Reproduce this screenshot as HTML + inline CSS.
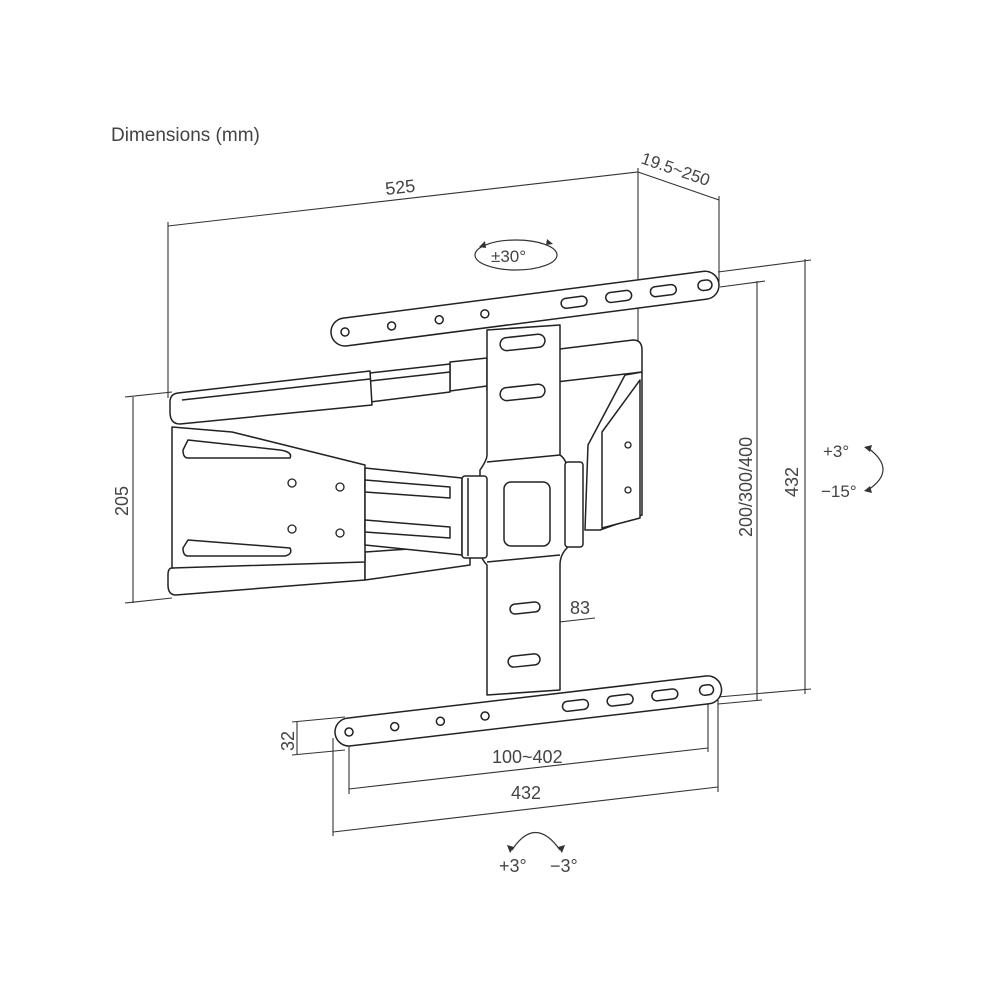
<!DOCTYPE html>
<html><head><meta charset="utf-8"><style>
html,body{margin:0;padding:0;background:#fff;width:1000px;height:1000px;overflow:hidden}
svg{display:block}
text{font-family:"Liberation Sans",sans-serif;fill:#444}
</style></head><body>
<svg width="1000" height="1000" viewBox="0 0 1000 1000" xmlns="http://www.w3.org/2000/svg">
<rect width="1000" height="1000" fill="#fff"/>
<text x="111" y="141" font-size="19">Dimensions (mm)</text>

<g stroke="#333" stroke-width="1.1" fill="none">
  <line x1="168" y1="226" x2="638" y2="172"/>
  <line x1="168" y1="222" x2="168" y2="398"/>
  <line x1="638" y1="168" x2="638" y2="345"/>
  <line x1="638" y1="172" x2="719" y2="200"/>
  <line x1="719" y1="196" x2="719" y2="282"/>
  <line x1="718" y1="272" x2="811" y2="260"/>
  <line x1="805" y1="259" x2="805" y2="694"/>
  <line x1="718" y1="697" x2="811" y2="689"/>
  <line x1="720" y1="287" x2="765" y2="281"/>
  <line x1="757" y1="281" x2="757" y2="700"/>
  <line x1="718" y1="704" x2="762" y2="700"/>
  <line x1="125" y1="397" x2="172" y2="392"/>
  <line x1="133" y1="397" x2="133" y2="603"/>
  <line x1="125" y1="603" x2="172" y2="598"/>
  <line x1="487" y1="630" x2="595" y2="618"/>
  <line x1="292" y1="722" x2="345" y2="717"/>
  <line x1="297" y1="722" x2="297" y2="754"/>
  <line x1="292" y1="755" x2="345" y2="750"/>
  <line x1="349" y1="734" x2="349" y2="794"/>
  <line x1="708" y1="692" x2="708" y2="752"/>
  <line x1="349" y1="789" x2="708" y2="748"/>
  <line x1="333" y1="738" x2="333" y2="836"/>
  <line x1="718" y1="700" x2="718" y2="792"/>
  <line x1="333" y1="832" x2="718" y2="787"/>
</g>

<text x="0" y="0" font-size="18" transform="translate(386,195) rotate(-6.6)">525</text>
<text x="0" y="0" font-size="17" transform="translate(640,163) rotate(19)">19.5~250</text>
<text x="0" y="0" font-size="18" transform="translate(128,516) rotate(-90)">205</text>
<text x="0" y="0" font-size="18" transform="translate(752,537) rotate(-90)">200/300/400</text>
<text x="0" y="0" font-size="18" transform="translate(798,497) rotate(-90)">432</text>
<text x="0" y="0" font-size="18" transform="translate(294,751) rotate(-90)">32</text>
<text x="570" y="614" font-size="18">83</text>
<text x="492" y="763" font-size="18">100~402</text>
<text x="511" y="799" font-size="18">432</text>
<text x="499" y="872" font-size="18">+3°</text>
<text x="550" y="872" font-size="18">−3°</text>
<text x="823" y="457" font-size="17">+3°</text>
<text x="821" y="497" font-size="17">−15°</text>
<text x="491" y="262" font-size="17">±30°</text>

<g stroke="#333" stroke-width="1.2" fill="none">
  <ellipse cx="516" cy="255" rx="41" ry="15"/>
  <path d="M512 850 Q535 815 560 850"/>
  <path d="M868 448 Q898 470 868 490"/>
</g>
<g fill="#333">
  <path d="M479 247 l6 -6 l1 7z"/>
  <path d="M553 244 l-6 -5 l-1 6z"/>
  <path d="M510 853 l-3 -8 l7 2z"/>
  <path d="M562 853 l3 -8 l-7 2z"/>
  <path d="M864 447 l8 -2 l-2 7z"/>
  <path d="M864 491 l8 2 l-2 -7z"/>
</g>

<g stroke="#222" stroke-width="1.5" fill="#fff" stroke-linejoin="round">
  <path d="M487 358 L633 340 Q642 340 642 350 L642 372 L487 390 Z"/>
  <path d="M450 362 L487 358 L487 386 L450 391 Z"/>
  <path d="M370 373 L450 364 L450 392 L370 402 Z"/>
  <line x1="370" y1="381" x2="450" y2="372"/>
  <path d="M178 393 L370 371 L372 405 L180 424 Q170 424 170 412 L170 402 Q170 394 178 393 Z"/>
  <line x1="182" y1="400" x2="370" y2="379"/>
  <path d="M172 568 L365 552 L365 580 L176 595 Q168 595 168 585 L168 575 Q168 568 172 568 Z"/>
  <path d="M365 552 L470 545 L470 565 L365 580 Z"/>
  <path d="M172 427 L232 432 L365 465 L365 562 L172 568 Z"/>
  <path d="M188 440 L280 450 Q293 452 290 458 L188 458 Q183 458 183 450 Z"/>
  <path d="M188 540 L290 548 Q293 554 285 556 L188 556 Q183 556 183 548 Z"/>
  <path d="M365 468 L462 478 L462 555 L365 545 Z"/>
  <path d="M365 480 L450 487 L450 498 L365 492 Z"/>
  <path d="M365 520 L450 527 L450 538 L365 532 Z"/>
  <path d="M588 445 L625 375 L642 372 L642 515 L600 530 L585 530 Z"/>
  <path d="M602 432 L602 528 L640 518 L640 380 Z"/>
  <path d="M487 330 L560 325 L560 455 Q567 460 567 470 L567 548 Q560 555 560 565 L560 690 L487 695 L487 565 Q480 558 480 548 L480 470 Q487 460 487 455 Z"/>
  <line x1="487" y1="462" x2="560" y2="455"/>
  <line x1="487" y1="562" x2="560" y2="555"/>
  <rect x="504" y="482" width="46" height="64" rx="7"/>
  <rect x="462" y="476" width="25" height="82" rx="3"/>
  <line x1="468" y1="478" x2="468" y2="556"/>
  <rect x="565" y="462" width="18" height="85" rx="3"/>
  <rect x="500" y="336" width="45" height="13" rx="6.5" transform="rotate(-6 522 342)"/>
  <rect x="500" y="386" width="45" height="13" rx="6.5" transform="rotate(-6 522 392)"/>
  <rect x="510" y="603" width="30" height="10" rx="5" transform="rotate(-6 525 608)"/>
  <rect x="508" y="655" width="32" height="11" rx="5.5" transform="rotate(-6 524 660)"/>
  <g transform="translate(345,332) rotate(-7.4)">
    <rect x="-14" y="-14" width="391" height="28" rx="14"/>
    <circle cx="0" cy="0" r="4"/><circle cx="47" cy="0" r="4"/><circle cx="95" cy="0" r="4"/><circle cx="141" cy="0" r="4"/>
    <rect x="218" y="-5" width="26" height="10" rx="5"/>
    <rect x="263" y="-5" width="26" height="10" rx="5"/>
    <rect x="308" y="-5" width="26" height="10" rx="5"/>
    <rect x="356" y="-5" width="14" height="10" rx="5"/>
  </g>
  <g transform="translate(349,732) rotate(-6.7)">
    <rect x="-14" y="-14" width="389" height="28" rx="14"/>
    <circle cx="0" cy="0" r="4"/><circle cx="46" cy="0" r="4"/><circle cx="92" cy="0" r="4"/><circle cx="137" cy="0" r="4"/>
    <rect x="215" y="-5" width="26" height="10" rx="5"/>
    <rect x="260" y="-5" width="26" height="10" rx="5"/>
    <rect x="305" y="-5" width="26" height="10" rx="5"/>
    <rect x="353" y="-5" width="14" height="10" rx="5"/>
  </g>
</g>
<g fill="#fff" stroke="#222" stroke-width="1.3">
  <circle cx="292" cy="483" r="4"/><circle cx="340" cy="487" r="4"/>
  <circle cx="292" cy="529" r="4"/><circle cx="340" cy="533" r="4"/>
  <circle cx="628" cy="445" r="3"/><circle cx="628" cy="490" r="3"/>
</g>
</svg>
</body></html>
